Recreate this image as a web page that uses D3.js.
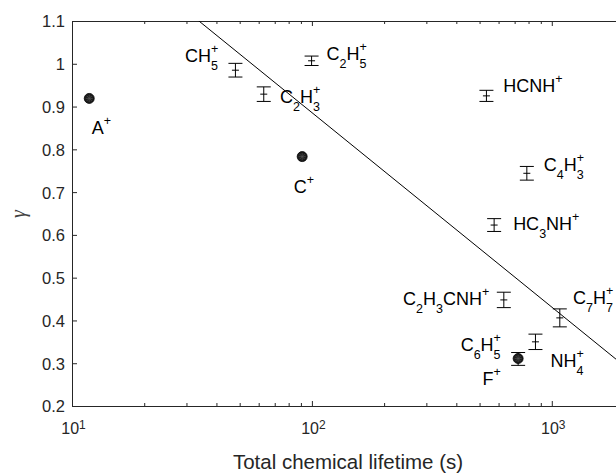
<!DOCTYPE html>
<html>
<head>
<meta charset="utf-8">
<script src="https://cdn.jsdelivr.net/npm/d3@7"></script>
<style>
  html, body { margin: 0; padding: 0; background: #fff; overflow: hidden; }
  svg { display: block; }
</style>
</head>
<body>
<svg id="chart" width="616" height="475"></svg>
<script>
// ---------------- data ----------------
const barLabels   = ["CH_5^+", "C_2H_3^+", "C_2H_5^+", "HCNH^+", "C_4H_3^+", "HC_3NH^+", "C_2H_3CNH^+", "C_7H_7^+", "NH_4^+", "C_6H_5^+"];
const barLifetime = [48, 63, 99.7, 534, 787, 575, 631, 1080, 855, 724];
const barGamma    = [0.985, 0.929, 1.007, 0.925, 0.744, 0.623, 0.448, 0.406, 0.350, 0.310];
const barError    = [0.016, 0.017, 0.011, 0.013, 0.016, 0.015, 0.018, 0.021, 0.018, 0.015];
const barLabelX   = [29.6, 73.6, 115, 627, 926, 690, 240, 1227, 988, 417];
const barLabelY   = [1.0196, 0.923, 1.024, 0.949, 0.765, 0.626, 0.451, 0.4525, 0.307, 0.344];

const dotLabels   = ["A^+", "C^+", "F^+"];
const dotLifetime = [11.8, 91.1, 724];
const dotGamma    = [0.919, 0.783, 0.311];
const dotLabelX   = [12.08, 84.1, 514];
const dotLabelY   = [0.850, 0.712, 0.264];

const fitX = [10, 2000];
const fitY = [1.3406, 0.2943];

const xDomain = [10, 2000];
const yDomain = [0.2, 1.1];
const xMajorTicks = [10, 100, 1000];
const xMinorTicks = [20,30,40,50,60,70,80,90,200,300,400,500,600,700,800,900,2000];
const yTicks = [0.2,0.3,0.4,0.5,0.6,0.7,0.8,0.9,1,1.1];
const yTickLabels = ["0.2","0.3","0.4","0.5","0.6","0.7","0.8","0.9","1","1.1"];
const xLabel = "Total chemical lifetime (s)";
const yLabel = "γ";

// ---------------- layout ----------------
const L = 72, R = 624, T = 21, B = 406;
const axisColor = "#262626";
const font = "'Liberation Sans', Arial, Helvetica, sans-serif";

const svg = d3.select("#chart");
const x = d3.scaleLog().domain(xDomain).range([L, R]);
const y = d3.scaleLinear().domain(yDomain).range([B, T]);

svg.append("defs").append("clipPath").attr("id", "plotclip")
  .append("rect").attr("x", L).attr("y", T).attr("width", R - L).attr("height", B - T);

// axes
function styleAxis(g) {
  g.selectAll("path.domain").attr("stroke", axisColor).attr("stroke-width", 1);
  g.selectAll(".tick line").attr("stroke", axisColor).attr("stroke-width", 1);
}
// left
const gy = svg.append("g").attr("transform", `translate(${L},0)`)
  .call(d3.axisLeft(y).tickValues(yTicks).tickFormat((d, i) => yTickLabels[i])
        .tickSizeInner(-5).tickSizeOuter(0).tickPadding(7));
styleAxis(gy);
gy.selectAll(".tick text").attr("font-family", font).attr("font-size", 16.5)
  .attr("fill", axisColor).attr("dy", "0.36em");

// bottom major
const gxMaj = svg.append("g").attr("transform", `translate(0,${B})`)
  .call(d3.axisBottom(x).tickValues(xMajorTicks).tickFormat(() => "")
        .tickSizeInner(-5).tickSizeOuter(0));
styleAxis(gxMaj);
gxMaj.selectAll(".tick text").remove();
gxMaj.selectAll(".tick").each(function(d) {
  const t = d3.select(this).append("text")
    .attr("font-family", font).attr("fill", axisColor)
    .attr("text-anchor", "middle").attr("x", 1).attr("y", 28).attr("font-size", 16);
  t.append("tspan").text("10");
  t.append("tspan").attr("font-size", 12).attr("dy", -5).text(String(Math.round(Math.log10(d))));
});
// bottom minor
const gxMin = svg.append("g").attr("transform", `translate(0,${B})`)
  .call(d3.axisBottom(x).tickValues(xMinorTicks).tickFormat(() => "")
        .tickSizeInner(-3).tickSizeOuter(0));
styleAxis(gxMin);
gxMin.select("path.domain").remove();

// top
const gtMaj = svg.append("g").attr("transform", `translate(0,${T})`)
  .call(d3.axisTop(x).tickValues(xMajorTicks).tickFormat(() => "")
        .tickSizeInner(-5).tickSizeOuter(0));
styleAxis(gtMaj);
const gtMin = svg.append("g").attr("transform", `translate(0,${T})`)
  .call(d3.axisTop(x).tickValues(xMinorTicks).tickFormat(() => "")
        .tickSizeInner(-3).tickSizeOuter(0));
styleAxis(gtMin);
gtMin.select("path.domain").remove();
// right
const gr = svg.append("g").attr("transform", `translate(${R},0)`)
  .call(d3.axisRight(y).tickValues(yTicks).tickFormat(() => "")
        .tickSizeInner(-5).tickSizeOuter(0));
styleAxis(gr);

// axis labels
svg.append("text").attr("x", (L + R) / 2).attr("y", 469)
  .attr("text-anchor", "middle").attr("font-family", font).attr("font-size", 20.5)
  .attr("fill", axisColor).text(xLabel);
svg.append("text").attr("transform", "translate(25,214) rotate(-90)")
  .attr("text-anchor", "middle").attr("font-family", "'Liberation Serif', 'Times New Roman', serif")
  .attr("font-style", "italic").attr("font-size", 20).attr("fill", "#404040").text(yLabel);

// ---------------- data marks ----------------
const plot = svg.append("g").attr("clip-path", "url(#plotclip)");

// fit line
const fitData = fitX.map((v, i) => [v, fitY[i]]);
plot.append("path").datum(fitData)
  .attr("d", d3.line().x(d => x(d[0])).y(d => y(d[1])))
  .attr("fill", "none").attr("stroke", "#000").attr("stroke-width", 1);

// error bars
const bars = barLifetime.map((v, i) => ({ x: v, y: barGamma[i], e: barError[i] }));
const capW = 7, midW = 3.5;
const eb = plot.selectAll("g.eb").data(bars).join("g").attr("class", "eb")
  .attr("stroke", "#000").attr("stroke-width", 1);
eb.append("line").attr("x1", d => x(d.x)).attr("x2", d => x(d.x))
  .attr("y1", d => y(d.y - d.e)).attr("y2", d => y(d.y + d.e));
eb.append("line").attr("x1", d => x(d.x) - capW).attr("x2", d => x(d.x) + capW)
  .attr("y1", d => y(d.y + d.e)).attr("y2", d => y(d.y + d.e));
eb.append("line").attr("x1", d => x(d.x) - capW).attr("x2", d => x(d.x) + capW)
  .attr("y1", d => y(d.y - d.e)).attr("y2", d => y(d.y - d.e));
eb.append("line").attr("x1", d => x(d.x) - midW).attr("x2", d => x(d.x) + midW)
  .attr("y1", d => y(d.y)).attr("y2", d => y(d.y));

// filled dots
const dots = dotLifetime.map((v, i) => ({ x: v, y: dotGamma[i] }));
const dg = plot.selectAll("g.dot").data(dots).join("g").attr("class", "dot")
  .attr("transform", d => `translate(${x(d.x)},${y(d.y)})`);
dg.append("circle").attr("r", 5).attr("fill", "#1c1c1c").attr("stroke", "#000").attr("stroke-width", 0.8);
[0, 45, 90, 135].forEach(a => {
  dg.append("line").attr("x1", -3.5).attr("x2", 3.5).attr("y1", 0).attr("y2", 0)
    .attr("transform", `rotate(${a})`).attr("stroke", "#555").attr("stroke-width", 0.6);
});

// ---------------- labels with sub/superscripts ----------------
function parseTex(s) {
  const toks = [];
  let i = 0, buf = "";
  while (i < s.length) {
    const c = s[i];
    if (c === "_" || c === "^") {
      if (buf) { toks.push({ t: "n", s: buf }); buf = ""; }
      toks.push({ t: c === "_" ? "sub" : "sup", s: s[i + 1] });
      i += 2;
    } else { buf += c; i++; }
  }
  if (buf) toks.push({ t: "n", s: buf });
  return toks;
}
const labelLayer = svg.append("g");
function drawLabel(str, px, py) {
  const g = labelLayer.append("g");
  const base = py + 6.3;
  const toks = parseTex(str);
  let cx = px;
  let k = 0;
  while (k < toks.length) {
    const tk = toks[k];
    if (tk.t === "n") {
      const t = g.append("text").attr("x", cx).attr("y", base)
        .attr("font-family", font).attr("font-size", 18).attr("fill", "#000").text(tk.s);
      cx += t.node().getComputedTextLength();
      k++;
    } else {
      // stack consecutive sub/sup at the same x
      let w = 0;
      while (k < toks.length && toks[k].t !== "n") {
        const s = toks[k];
        const t = g.append("text").attr("x", cx).attr("y", base + (s.t === "sub" ? 8 : -9))
          .attr("font-family", font).attr("font-size", 12.5).attr("fill", "#000").text(s.s);
        w = Math.max(w, t.node().getComputedTextLength());
        k++;
      }
      cx += w;
    }
  }
}
barLabels.forEach((s, i) => drawLabel(s, x(barLabelX[i]), y(barLabelY[i])));
dotLabels.forEach((s, i) => drawLabel(s, x(dotLabelX[i]), y(dotLabelY[i])));
</script>
</body>
</html>
